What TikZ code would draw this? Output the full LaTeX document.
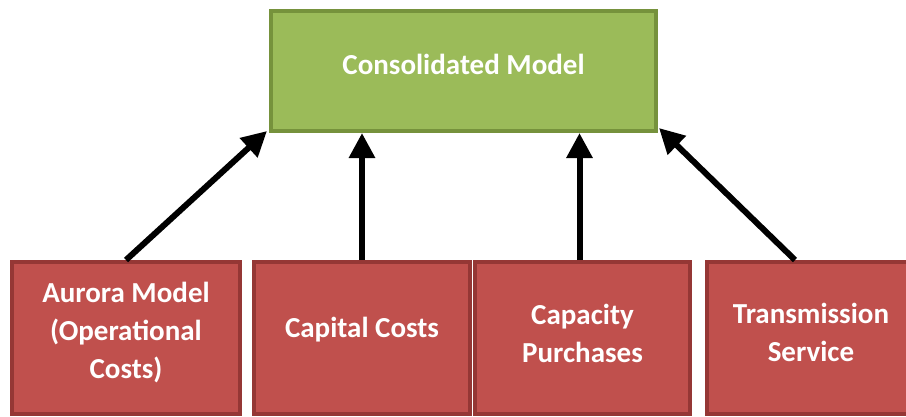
\documentclass[tikz,border=0pt]{standalone}
\usepackage{fontspec}
\setmainfont{Carlito}
\usetikzlibrary{arrows.meta,calc}
\definecolor{gfill}{HTML}{9BBB59}
\definecolor{gline}{HTML}{76923C}
\definecolor{rfill}{HTML}{C0504D}
\definecolor{rline}{HTML}{953735}
\tikzset{
  greenbox/.style={draw=gline, fill=gfill, line width=4pt, inner sep=0pt},
  redbox/.style={draw=rline, fill=rfill, line width=4pt, inner sep=0pt},
  boxtext/.style={font=\bfseries\fontsize{29}{38}\selectfont, text=white, align=center},
  link/.style={line width=6pt, -{Triangle[length=25pt,width=25pt]}}
}
\begin{document}
\begin{tikzpicture}[x=1pt,y=-1pt]
\useasboundingbox (0,0) rectangle (906,416);
\clip (0,0) rectangle (906,416);
\node[greenbox, minimum width=385pt, minimum height=120pt] (g) at (463.5,71) {};
\node[boxtext] (gt) at (463.5,64) {Consolidated Model};
\node[redbox, minimum width=228pt, minimum height=152pt] (r1) at (126,338) {};
\node[redbox, minimum width=216pt, minimum height=152pt] (r2) at (362,338) {};
\node[redbox, minimum width=215pt, minimum height=152pt] (r3) at (582.5,338) {};
\node[redbox, minimum width=208pt, minimum height=152pt] (r4) at (811,338) {};
\node[boxtext] (t1) at (126,333) {Aurora Model\\(Operational\\Costs)};
\node[boxtext] (t2) at (362,330) {Capital Costs};
\node[boxtext] (t3) at (582.5,333) {Capacity\\Purchases};
\node[boxtext] (t4) at (811,332) {Transmission\\Service};
\draw[link] (r1.north) -- ([xshift=-2pt,yshift=2pt]g.south west);
\draw[link] (r2.north) -- (r2.north |- g.south);
\draw[link] ([xshift=-3pt]r3.north) -- ([xshift=-3pt]r3.north |- g.south);
\draw[link] ([xshift=-16pt]r4.north) -- ([xshift=1pt,yshift=5pt]g.south east);
\end{tikzpicture}
\end{document}
